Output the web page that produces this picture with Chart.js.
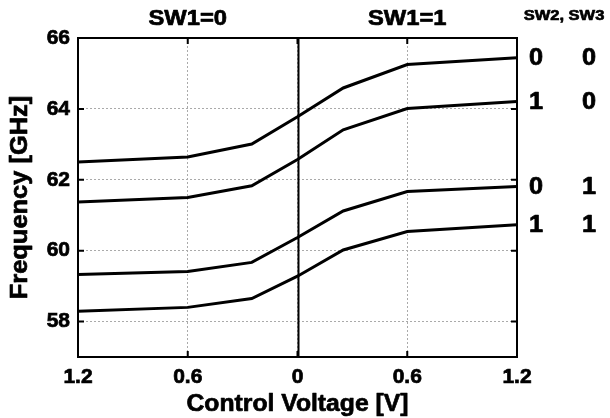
<!DOCTYPE html>
<html><head><meta charset="utf-8">
<script src="https://cdn.jsdelivr.net/npm/chart.js@4/dist/chart.umd.min.js"></script>
<style>html,body{margin:0;padding:0;background:#fff;}#wrap{width:610px;height:418px;}</style>
</head><body><div id="wrap"><canvas id="c" width="610" height="418"></canvas></div>
<script>
// ---- data ----
const voltages = [-1.2, -0.6, -0.25, 0, 0.25, 0.6, 1.2];
const xTickValues = [-1.2, -0.6, 0, 0.6, 1.2];
const xTickLabels = ['1.2', '0.6', '0', '0.6', '1.2'];
const yTickValues = [58, 60, 62, 64, 66];
const f00 = [62.50, 62.64, 63.01, 63.78, 64.59, 65.25, 65.44];
const f10 = [61.37, 61.50, 61.83, 62.57, 63.41, 64.01, 64.21];
const f01 = [59.33, 59.41, 59.67, 60.37, 61.12, 61.67, 61.81];
const f11 = [58.29, 58.40, 58.65, 59.28, 60.02, 60.54, 60.73];
const seriesLabels = [['0', '0'], ['1', '0'], ['0', '1'], ['1', '1']];
const sectionLabels = ['SW1=0', 'SW1=1'];
const sectionPositions = [-0.6, 0.6];
const legendTitle = 'SW2, SW3';
const xTitle = 'Control Voltage [V]';
const yTitle = 'Frequency [GHz]';

const FONT = '"Liberation Sans", Arial, Helvetica, sans-serif';
const allSeries = [f00, f10, f01, f11];

const datasets = allSeries.map(s => ({
  data: voltages.map((v, i) => ({x: v, y: s[i]})),
  borderColor: '#000', borderWidth: 3, pointRadius: 0, tension: 0, fill: false
}));

function boldText(ctx, t, x, y, size, sx) {
  ctx.save();
  ctx.translate(x, y);
  ctx.scale(sx || 1, 1);
  ctx.font = 'bold ' + size + 'px ' + FONT;
  ctx.lineWidth = 0.7; ctx.strokeStyle = '#000'; ctx.fillStyle = '#000';
  ctx.lineJoin = 'round';
  ctx.fillText(t, 0, 0); ctx.strokeText(t, 0, 0);
  ctx.restore();
}

const decor = {
  id: 'decor',
  beforeDatasetsDraw(chart) {
    const {ctx, chartArea: a, scales: {x}} = chart;
    ctx.save();
    const x0 = Math.round(x.getPixelForValue(0)) + 0.5;
    ctx.strokeStyle = '#000'; ctx.lineWidth = 2;
    ctx.beginPath(); ctx.moveTo(x0, a.top); ctx.lineTo(x0, a.bottom); ctx.stroke();
    ctx.restore();
  },
  afterDatasetsDraw(chart) {
    const {ctx, chartArea: a, scales: {x, y}} = chart;
    ctx.save();
    ctx.strokeStyle = '#000'; ctx.lineWidth = 2;
    ctx.strokeRect(a.left, a.top, a.right - a.left, a.bottom - a.top);
    const tl = 6;
    ctx.beginPath();
    yTickValues.forEach(v => {
      const py = y.getPixelForValue(v);
      ctx.moveTo(a.left, py); ctx.lineTo(a.left + tl, py);
      ctx.moveTo(a.right, py); ctx.lineTo(a.right - tl, py);
    });
    xTickValues.forEach(v => {
      const px = x.getPixelForValue(v);
      ctx.moveTo(px, a.top); ctx.lineTo(px, a.top + tl);
      ctx.moveTo(px, a.bottom); ctx.lineTo(px, a.bottom - tl);
    });
    ctx.stroke();
    ctx.textAlign = 'center'; ctx.textBaseline = 'middle';
    sectionLabels.forEach((t, i) => boldText(ctx, t, x.getPixelForValue(sectionPositions[i]), 19, 22, 1.08));
    boldText(ctx, legendTitle, 564, 16, 15, 1.1);
    allSeries.forEach((s, i) => {
      const py = y.getPixelForValue(s[s.length - 1]) + 1;
      boldText(ctx, seriesLabels[i][0], 536, py, 23, 1.1);
      boldText(ctx, seriesLabels[i][1], 589, py, 23, 1.1);
    });
    // axis titles
    boldText(ctx, xTitle, (a.left + a.right) / 2, 404, 24, 1.03);
    ctx.save();
    ctx.translate(20, (a.top + a.bottom) / 2);
    ctx.rotate(-Math.PI / 2);
    boldText(ctx, yTitle, 0, 0, 24, 1.06);
    ctx.restore();
    ctx.restore();
  }
};

new Chart(document.getElementById('c'), {
  type: 'line',
  data: {datasets},
  options: {
    responsive: false, animation: false, devicePixelRatio: 1,
    layout: {padding: {left: 0, right: 93, top: 38, bottom: 0}},
    plugins: {legend: {display: false}, tooltip: {enabled: false}},
    scales: {
      x: {
        type: 'linear', min: -1.2, max: 1.2,
        afterBuildTicks: s => { s.ticks = xTickValues.map(v => ({value: v})); },
        afterFit: s => { s.height = 61; },
        ticks: {
          callback: (v, i) => xTickLabels[i], color: '#000', padding: 8,
          maxRotation: 0, autoSkip: false,
          textStrokeColor: '#000', textStrokeWidth: 0.7,
          font: {family: FONT, size: 21, weight: 'bold'}
        },
        grid: {color: '#aaa', lineWidth: 1, drawTicks: false},
        border: {display: false, dash: [2, 2]}
      },
      y: {
        min: 57, max: 66,
        afterBuildTicks: s => { s.ticks = yTickValues.map(v => ({value: v})); },
        afterFit: s => { s.width = 78; },
        ticks: {
          callback: v => String(v), color: '#000', padding: 8,
          textStrokeColor: '#000', textStrokeWidth: 0.7,
          font: {family: FONT, size: 21, weight: 'bold'}
        },
        grid: {color: '#aaa', lineWidth: 1, drawTicks: false},
        border: {display: false, dash: [2, 2]}
      }
    }
  },
  plugins: [decor]
});
</script>
</body></html>
